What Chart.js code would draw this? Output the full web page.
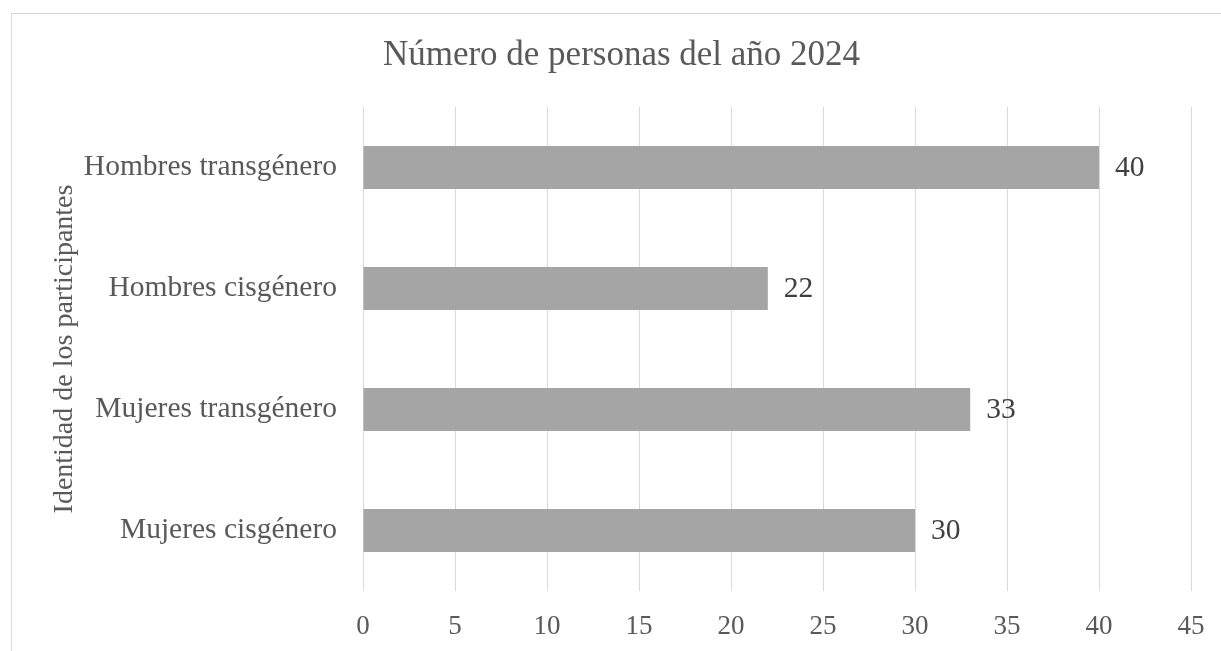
<!DOCTYPE html>
<html>
<head>
<meta charset="utf-8">
<script src="https://cdn.jsdelivr.net/npm/chart.js@4"></script>
<style>
    body { margin: 0; background: #fff; overflow: hidden; }
    #frame { position: absolute; left: 11px; top: 13px; width: 1300px; height: 800px; border: 1px solid #d9d9d9; }
    #personasChart { position: absolute; left: 0; top: 0; }
</style>
</head>
<body>
<div id="frame"></div>
<canvas id="personasChart" width="1221" height="651"></canvas>
<script>
const categories = ['Hombres transgénero', 'Hombres cisgénero', 'Mujeres transgénero', 'Mujeres cisgénero'];
const personas = [40, 22, 33, 30];
const chartTitle = 'Número de personas del año 2024';
const axisTitle = 'Identidad de los participantes';

const serif = 'Liberation Serif, Times New Roman, serif';

// value labels to the right of each bar
const valueLabels = {
    id: 'valueLabels',
    afterDatasetsDraw(chart) {
        const c = chart.ctx;
        const meta = chart.getDatasetMeta(0);
        c.save();
        c.font = '29.5px ' + serif;
        c.fillStyle = '#404040';
        c.textAlign = 'left';
        c.textBaseline = 'middle';
        meta.data.forEach((bar, i) => {
            c.fillText(String(personas[i]), bar.x + 16, bar.y + 1);
        });
        c.restore();
    }
};

const ctx = document.getElementById('personasChart').getContext('2d');

new Chart(ctx, {
    type: 'bar',
    data: {
        labels: categories,
        datasets: [{
            data: personas,
            backgroundColor: '#a5a5a5',
            borderWidth: 0,
            categoryPercentage: 1,
            barPercentage: 0.355
        }]
    },
    options: {
        indexAxis: 'y',
        responsive: false,
        animation: false,
        layout: { padding: { left: 52, right: 30, top: 0, bottom: 0 } },
        plugins: {
            legend: { display: false },
            tooltip: { enabled: false },
            title: {
                display: true,
                text: chartTitle,
                color: '#595959',
                font: { family: serif, size: 35, weight: 'normal' },
                padding: { top: 35, bottom: 30 }
            }
        },
        scales: {
            x: {
                min: 0,
                max: 45,
                ticks: {
                    stepSize: 5,
                    color: '#595959',
                    padding: 20,
                    font: { family: serif, size: 27 }
                },
                grid: { color: '#d9d9d9', lineWidth: 1, drawTicks: false },
                border: { display: false },
                afterFit(scale) {
                    scale.height = 60;
                    scale.paddingLeft = 0;
                    scale.paddingRight = 0;
                }
            },
            y: {
                ticks: {
                    color: '#595959',
                    padding: 26,
                    font: { family: serif, size: 29.5 }
                },
                grid: { display: false, drawTicks: false },
                border: { display: false },
                title: {
                    display: true,
                    text: axisTitle,
                    color: '#595959',
                    font: { family: serif, size: 28 },
                    padding: { top: -4, bottom: 0 }
                },
                afterFit(scale) { scale.width = 311; }
            }
        }
    },
    plugins: [valueLabels]
});
</script>
</body>
</html>
